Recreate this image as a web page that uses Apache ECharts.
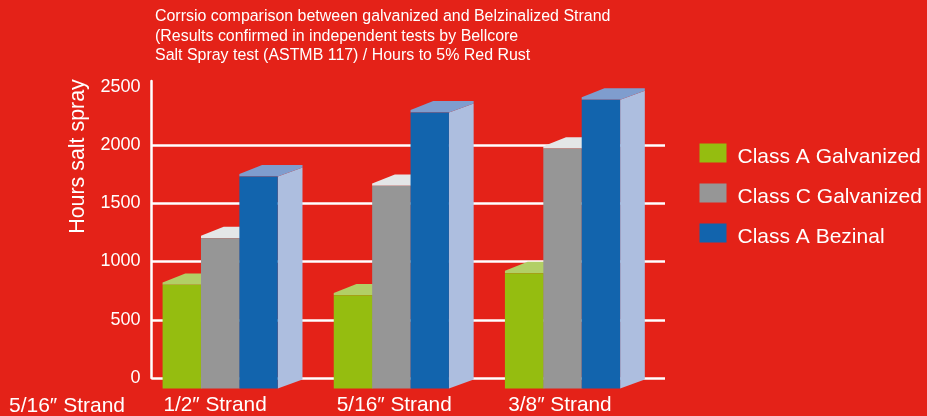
<!DOCTYPE html>
<html>
<head>
<meta charset="utf-8">
<style>html,body{margin:0;padding:0;background:#E42218}#c{width:927px;height:416px}</style>
<script src="https://cdn.jsdelivr.net/npm/echarts@6/dist/echarts.min.js"></script>
</head>
<body>
<div id="c"></div>
<script>
const categories = ['1/2″ Strand', '5/16″ Strand', '3/8″ Strand'];
const strayLabel = '5/16″ Strand';
const classAGalvanized = [800, 710, 900];
const classCGalvanized = [1200, 1650, 1970];
const classABezinal = [1730, 2280, 2390];
const gridValues = [0, 500, 1000, 1500, 2000];
const titleLines = [
  'Corrsio comparison between galvanized and Belzinalized Strand',
  '(Results confirmed in independent tests by Bellcore',
  'Salt Spray test (ASTMB 117) / Hours to 5% Red Rust'
];
const FONT = '"Liberation Sans", Arial, sans-serif';
const WHITE = '#ffffff';
const BAR_W = 38.4, GROUP_OFF = -74.5, DX = 24.7, DY = 9, DROP = 10.5;

function bar3d(front, top, side) {
  return function (params, api) {
    const p = api.coord([api.value(0), api.value(1)]);
    const base = api.coord([api.value(0), 0])[1] + DROP;
    const x0 = p[0] + GROUP_OFF + params.seriesIndex * BAR_W;
    const x1 = x0 + BAR_W, y = p[1];
    return {
      type: 'group',
      children: [
        { type: 'polygon', shape: { points: [[x1, y], [x1 + DX, y - DY], [x1 + DX, base - DY], [x1, base]] }, style: { fill: side } },
        { type: 'polygon', shape: { points: [[x0, y - 2.4], [x0 + DX - 2, y - 11.4], [x1 + DX, y - 11.4], [x1 + DX, y - DY], [x1, y], [x0, y]] }, style: { fill: top } },
        { type: 'rect', shape: { x: x0, y: y, width: BAR_W, height: base - y }, style: { fill: front } }
      ]
    };
  };
}
function barSeries(name, values, front, top, side) {
  return {
    name, type: 'custom', z: 3, clip: false,
    itemStyle: { color: front },
    encode: { x: 0, y: 1 },
    data: values.map((v, i) => [i, v]),
    renderItem: bar3d(front, top, side)
  };
}
const labelPad = [44, 28, 39];
const chart = echarts.init(document.getElementById('c'), null, { renderer: 'canvas' });
chart.setOption({
  animation: false,
  backgroundColor: '#E42218',
  textStyle: { fontFamily: FONT },
  grid: { left: 151.5, top: 81, width: 513.5, height: 301, containLabel: false },
  legend: {
    left: 699.5, top: 143.5, padding: 0, orient: 'vertical', icon: 'rect',
    itemWidth: 27, itemHeight: 19, itemGap: 16, selectedMode: false,
    data: ['Class A Galvanized', 'Class C Galvanized', 'Class A Bezinal'],
    formatter: '{a|{name}}',
    textStyle: {
      color: WHITE, fontSize: 21, fontFamily: FONT,
      rich: { a: { color: WHITE, fontSize: 21, fontFamily: FONT, padding: [8, 0, 0, 6] } }
    }
  },
  xAxis: {
    type: 'category',
    data: categories.map((c, i) => ({ value: c, textStyle: { padding: [0, labelPad[i], 0, 0] } })),
    axisLine: { show: false }, axisTick: { show: false }, splitLine: { show: false },
    axisLabel: { color: WHITE, fontSize: 20.8, fontFamily: FONT, margin: 17, interval: 0, hideOverlap: false }
  },
  yAxis: {
    type: 'value', min: 0, max: 2550, interval: 500,
    name: 'Hours salt spray', nameLocation: 'middle', nameGap: 63,
    nameTextStyle: { color: WHITE, fontSize: 21.4, fontFamily: FONT, padding: [0, 0, 0, 146] },
    axisLine: { show: true, lineStyle: { color: WHITE, width: 2.5 } },
    axisTick: { show: false }, splitLine: { show: false },
    axisLabel: { color: WHITE, fontSize: 18, fontFamily: FONT, margin: 11, showMaxLabel: false, formatter: v => String(v) }
  },
  series: [
    barSeries('Class A Galvanized', classAGalvanized, '#95BD10', '#B2CF66', '#95BD10'),
    barSeries('Class C Galvanized', classCGalvanized, '#969696', '#E4E6E7', '#969696'),
    barSeries('Class A Bezinal', classABezinal, '#1264AD', '#7F9DCE', '#ADBEDF'),
    {
      name: 'grid', type: 'line', z: 1, data: [], silent: true,
      markLine: {
        silent: true, z: 1, symbol: 'none', animation: false, label: { show: false },
        lineStyle: { color: WHITE, width: 2.5, type: 'solid' },
        data: gridValues.map(v => ({ yAxis: v }))
      }
    }
  ],
  graphic: [
    ...titleLines.map((t, i) => ({
      type: 'text', left: 155, top: 9 + i * 19.5,
      style: { text: t, fill: WHITE, font: '15.95px ' + FONT }
    })),
    { type: 'text', left: 9, top: 396, style: { text: strayLabel, fill: WHITE, font: '21px ' + FONT } }
  ]
});
</script>
</body>
</html>
